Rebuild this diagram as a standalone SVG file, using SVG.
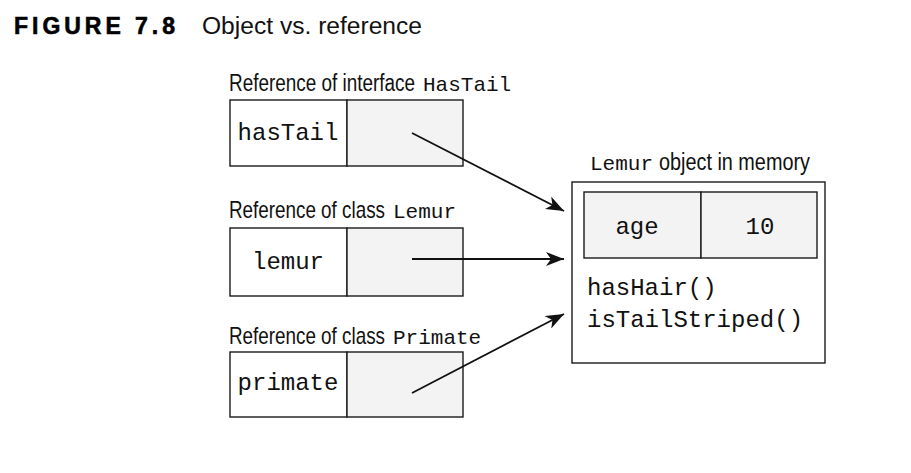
<svg xmlns="http://www.w3.org/2000/svg" width="911" height="473" viewBox="0 0 911 473">
<style>
.box{fill:#ffffff;stroke:#1a1a1a;stroke-width:1.4}
.cell{fill:#f3f3f3;stroke:#1a1a1a;stroke-width:1.4}
.mono{font-family:"Liberation Mono","Courier New",monospace;fill:#111}
.lab{font-family:"Liberation Sans",Arial,sans-serif;font-size:23px;fill:#111}
.conn{stroke:#111;stroke-width:1.8;fill:none;marker-end:url(#ah)}
</style>
<defs>
<marker id="ah" markerUnits="userSpaceOnUse" markerWidth="20" markerHeight="14" refX="18" refY="7" orient="auto">
<path d="M0,0 L18,7 L0,14 L5,7 z" fill="#111"/>
</marker>
</defs>
<g id="title">
<text x="14" y="34" font-family="Liberation Sans,Arial,sans-serif" font-weight="bold" font-size="23" textLength="161" lengthAdjust="spacing" fill="#000" stroke="#000" stroke-width="0.6">FIGURE 7.8</text>
<text x="202" y="34" font-family="Liberation Sans,Arial,sans-serif" font-size="23" textLength="220" lengthAdjust="spacingAndGlyphs" fill="#111">Object vs. reference</text>
</g>
<g id="ref-hastail">
<text class="lab" transform="translate(229,91) scale(0.822,1)">Reference of interface</text>
<text class="mono" x="423" y="91" font-size="21">HasTail</text>
<rect class="box" x="230" y="100" width="117" height="66"/>
<rect class="cell" x="347" y="100" width="116" height="66"/>
<text class="mono" x="288" y="140" font-size="24" text-anchor="middle">hasTail</text>
</g>
<g id="ref-lemur">
<text class="lab" transform="translate(229,218) scale(0.819,1)">Reference of class</text>
<text class="mono" x="393" y="218" font-size="21">Lemur</text>
<rect class="box" x="230" y="228" width="117" height="68"/>
<rect class="cell" x="347" y="228" width="116" height="68"/>
<text class="mono" x="288" y="269" font-size="24" text-anchor="middle">lemur</text>
</g>
<g id="ref-primate">
<text class="lab" transform="translate(229,344) scale(0.819,1)">Reference of class</text>
<text class="mono" x="393" y="344" font-size="21">Primate</text>
<rect class="box" x="230" y="352" width="117" height="65"/>
<rect class="cell" x="347" y="352" width="116" height="65"/>
<text class="mono" x="288" y="390" font-size="24" text-anchor="middle">primate</text>
</g>
<g id="lemur-object">
<text class="mono" x="590" y="170" font-size="21">Lemur</text>
<text class="lab" transform="translate(659,170) scale(0.862,1)">object in memory</text>
<rect class="box" x="572" y="182" width="253" height="181"/>
<rect class="cell" x="584" y="192" width="117" height="66"/>
<rect class="cell" x="701" y="192" width="116" height="66"/>
<text class="mono" x="637" y="234" font-size="24" text-anchor="middle">age</text>
<text class="mono" x="760" y="234" font-size="24" text-anchor="middle">10</text>
<text class="mono" x="587" y="295" font-size="24">hasHair()</text>
<text class="mono" x="587" y="327" font-size="24">isTailStriped()</text>
</g>
<g id="connectors">
<line class="conn" x1="412" y1="133" x2="564" y2="211"/>
<line class="conn" x1="412" y1="259" x2="564" y2="259"/>
<line class="conn" x1="412" y1="393" x2="564" y2="314"/>
</g>
</svg>
